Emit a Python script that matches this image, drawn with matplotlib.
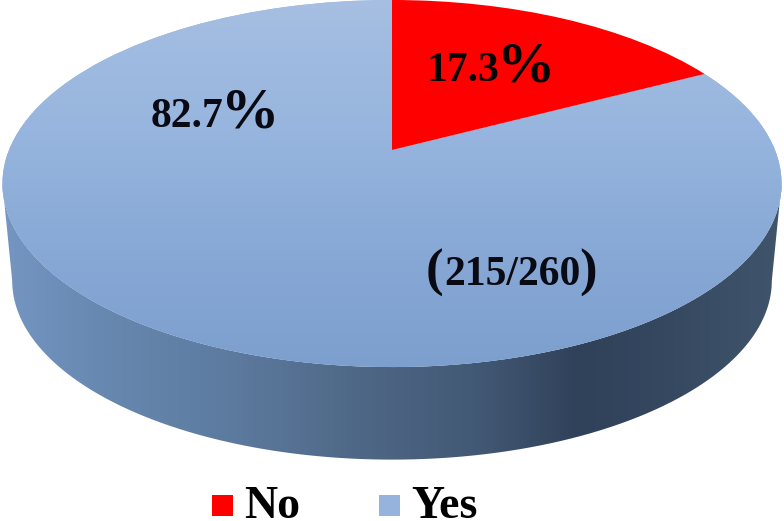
import numpy as np
import matplotlib
matplotlib.use("Agg")
import matplotlib.pyplot as plt
from matplotlib.colors import LinearSegmentedColormap
from matplotlib.patches import Rectangle, Polygon
from matplotlib.transforms import Transform

categories = ["No", "Yes"]
shares = [17.3, 82.7]
colors = ["#ff0000", "#95b3dd"]
share_labels = ["17.3", "82.7"]
count_label = "215/260"

plt.rcParams["font.family"] = "Liberation Serif"
plt.rcParams["font.weight"] = "bold"

# the pie tilted back: unit circle to picture pixels
CX, CY, SX, SY, K = 392.0, 150.0, 383.0, 177.4, 0.1826
DEPTH_SCALE, DEPTH = 0.975, 98.0


class Tilt(Transform):
    input_dims = 2
    output_dims = 2
    is_separable = False

    def transform_non_affine(self, values):
        values = np.asarray(values, dtype=float)
        w = 1 + K * values[:, 1]
        return np.column_stack([CX + SX * values[:, 0] / w, CY - SY * values[:, 1] / w])


fig = plt.figure(figsize=(7.84, 5.21), dpi=100)
ax = fig.add_axes([0, 0, 1, 1])

wedges, _ = ax.pie(shares, colors=colors, startangle=90, counterclock=False)
tilt = Tilt()
for w in wedges:
    w.set_transform(tilt + ax.transData)
    w.set_linewidth(0)

# side wall
t = np.linspace(np.pi + np.arcsin(K), 2 * np.pi - np.arcsin(K), 300)
rim = tilt.transform_non_affine(np.column_stack([np.cos(t), np.sin(t)]))
low = np.column_stack([CX + (rim[:, 0] - CX) * DEPTH_SCALE, CY + (rim[:, 1] - CY) * DEPTH_SCALE + DEPTH])
wall_shape = Polygon(np.vstack([low, rim[::-1]]), closed=True, transform=ax.transData, fc="none", ec="none")
ax.add_patch(wall_shape)
wall_cmap = LinearSegmentedColormap.from_list("wall", [
    (0.0, "#7596c2"), (0.13, "#6788b0"), (0.3, "#5c7a9e"), (0.45, "#4f6887"),
    (0.6, "#435a76"), (0.74, "#30415a"), (0.85, "#354860"), (1.0, "#40556c")])
wall = ax.imshow(np.linspace(0, 1, 256)[None, :], cmap=wall_cmap, aspect="auto",
                 extent=(0, 784, 470, 170), zorder=0.5)
wall.set_clip_path(wall_shape)

# light to dark shading on the top of the Yes slice
top_cmap = LinearSegmentedColormap.from_list("top", [
    (0.0, "#a6bfe2"), (0.35, "#97b5de"), (0.7, "#87a8d5"), (1.0, "#7d9fce")])
top = ax.imshow(np.linspace(0, 1, 256)[:, None], cmap=top_cmap, aspect="auto",
                extent=(0, 784, 370, 0), zorder=1.1)
top.set_clip_path(wedges[1])
wedges[0].set_zorder(1.2)

ax.set_xlim(0, 784)
ax.set_ylim(521, 0)
ax.set_aspect("auto")
ax.axis("off")

# percentage labels, the % sign is set larger
ax.text(427, 81, share_labels[0], fontsize=30, ha="left", va="baseline", color="#0a0505", zorder=3)
ax.text(497, 81, "%", fontsize=42, ha="left", va="baseline", color="#0a0505", zorder=3)
ax.text(151, 127, share_labels[1], fontsize=30, ha="left", va="baseline", color="#0a0a14", zorder=3)
ax.text(221, 127, "%", fontsize=42, ha="left", va="baseline", color="#0a0a14", zorder=3)

ax.text(426, 286, "(", fontsize=38, ha="left", va="baseline", color="#0a0a14", zorder=3)
ax.text(444, 285, count_label, fontsize=30, ha="left", va="baseline", color="#0a0a14", zorder=3)
ax.text(579, 286, ")", fontsize=38, ha="left", va="baseline", color="#0a0a14", zorder=3)

# legend
for name, col, sq_x, txt_x in zip(categories, ["#ff0000", "#95b3dd"], [212, 379], [244, 411]):
    ax.add_patch(Rectangle((sq_x, 495), 21, 21, fc=col, ec="none", zorder=3))
    ax.text(txt_x, 518, name, fontsize=33, ha="left", va="baseline", color="black", zorder=3)

fig.savefig("out.png", dpi=100)
